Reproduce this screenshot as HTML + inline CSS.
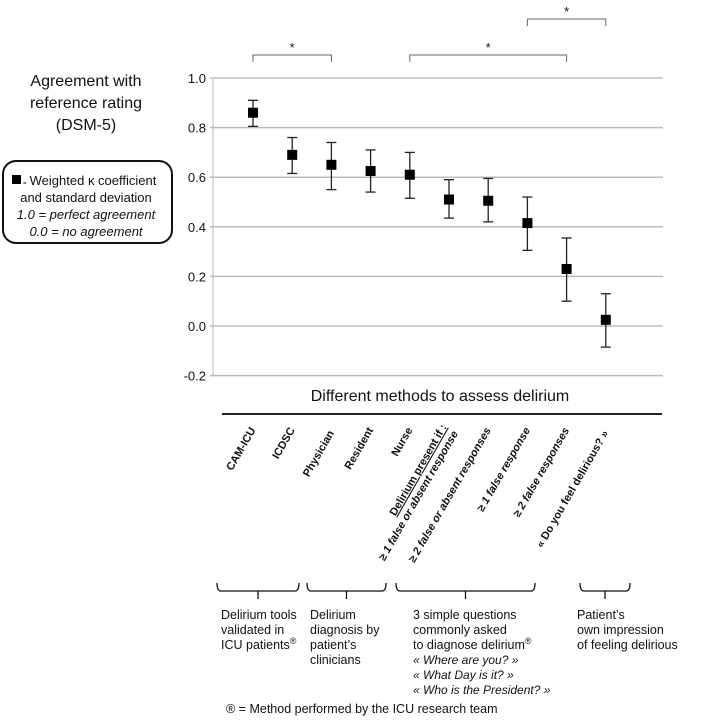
<!DOCTYPE html>
<html><head><meta charset="utf-8"><style>
body{margin:0;background:#fff;}
svg{display:block;font-family:"Liberation Sans",sans-serif;}
</style></head><body>
<svg id="chart" width="710" height="724" viewBox="0 0 710 724">
<g font-size="16" text-anchor="middle" fill="#111">
<text x="86" y="86">Agreement with</text>
<text x="86" y="108">reference rating</text>
<text x="86" y="130">(DSM-5)</text>
</g>
<g>
<rect x="3" y="161" width="169" height="82" rx="13" fill="#fff" stroke="#111" stroke-width="2"/>
<rect x="12" y="175" width="9" height="9" fill="#000"/>
<text x="23" y="185" font-size="6">=</text>
<g font-size="13" text-anchor="middle" fill="#111">
<text x="93" y="185">Weighted κ coefficient</text>
<text x="86" y="202">and standard deviation</text>
<text x="86" y="219" font-style="italic">1.0 = perfect agreement</text>
<text x="86" y="236" font-style="italic">0.0 = no agreement</text>
</g>
</g>
<g id="grid"></g>
<g id="yticks" font-size="13" text-anchor="end" fill="#111"></g>
<g id="marks"></g>
<g id="sig" fill="none" stroke="#666" stroke-width="1"></g>
<text x="440" y="401" font-size="16" text-anchor="middle" fill="#111">Different methods to assess delirium</text>
<line x1="222" y1="414" x2="662" y2="414" stroke="#222" stroke-width="2"/>
<g id="xlabels" font-size="11" font-weight="bold" fill="#111"></g>
<g id="groups" fill="none" stroke="#111" stroke-width="1.3"></g>
<g font-size="12.5" fill="#111">
<text x="221" y="619">Delirium tools</text><text x="221" y="634">validated in</text><text x="221" y="649">ICU patients<tspan font-size="9" dy="-5">®</tspan></text>
<text x="310" y="619">Delirium</text><text x="310" y="634">diagnosis by</text><text x="310" y="649">patient’s</text><text x="310" y="664">clinicians</text>
<text x="413" y="619">3 simple questions</text><text x="413" y="634">commonly asked</text><text x="413" y="649">to diagnose delirium<tspan font-size="9" dy="-5">®</tspan></text>
<g font-style="italic" font-size="12"><text x="413" y="664">« Where are you? »</text><text x="413" y="679">« What Day is it? »</text><text x="413" y="694">« Who is the President? »</text></g>
<text x="577" y="619">Patient’s</text><text x="577" y="634">own impression</text><text x="577" y="649">of feeling delirious</text>
</g>
<text x="226" y="713" font-size="12.5" fill="#111">® = Method performed by the ICU research team</text>
</svg>
<script>
const categories=["CAM-ICU","ICDSC","Physician","Resident","Nurse","≥1 false or absent","≥2 false or absent","≥1 false","≥2 false","Do you feel delirious?"];
const kappa=[0.86,0.69,0.65,0.625,0.61,0.51,0.505,0.415,0.23,0.025];
const upper=[0.91,0.76,0.74,0.71,0.70,0.59,0.595,0.52,0.355,0.13];
const lower=[0.805,0.615,0.55,0.54,0.515,0.435,0.42,0.305,0.10,-0.085];
const yTicks=[1.0,0.8,0.6,0.4,0.2,0.0,-0.2];
const yTickLabels=["1.0","0.8","0.6","0.4","0.2","0.0","-0.2"];
const sigPairs=[[0,2],[4,8],[7,9]];
const NS="http://www.w3.org/2000/svg";
const y=v=>326-(v)*248;
const x=i=>253+i*39.2;
function mk(t,a,p){const e=document.createElementNS(NS,t);for(const k in a)e.setAttribute(k,a[k]);p.appendChild(e);return e;}
const grid=document.getElementById('grid'),yt=document.getElementById('yticks'),marks=document.getElementById('marks'),sig=document.getElementById('sig');
mk('line',{x1:213,y1:y(1),x2:213,y2:y(-0.2),stroke:'#bbb','stroke-width':1},grid);
yTicks.forEach((v,i)=>{
 const l=mk('line',{x1:210,y1:y(v),x2:663,y2:y(v),stroke:'#bbb','stroke-width':1.5},grid);
 
 
 const t=mk('text',{x:206,y:y(v)+5},yt);t.textContent=yTickLabels[i];
 
 
});
kappa.forEach((v,i)=>{
 const g=mk('g',{},marks);
 
 
 mk('line',{x1:x(i),y1:y(upper[i]),x2:x(i),y2:y(lower[i]),stroke:'#222','stroke-width':1.3},g);
 mk('line',{x1:x(i)-5,y1:y(upper[i]),x2:x(i)+5,y2:y(upper[i]),stroke:'#222','stroke-width':1.3},g);
 mk('line',{x1:x(i)-5,y1:y(lower[i]),x2:x(i)+5,y2:y(lower[i]),stroke:'#222','stroke-width':1.3},g);
 mk('rect',{x:x(i)-5,y:y(v)-5,width:10,height:10,fill:'#000'},g);
});
const sigY=[55,55,19];
sigPairs.forEach((p,i)=>{
 const a=x(p[0]),b=x(p[1]),yy=sigY[i];
 const path=mk('path',{d:`M${a},${yy+7}V${yy}H${b}V${yy+7}`},sig);
 
 
 const s=mk('text',{x:(a+b)/2,y:yy-3,'font-size':13,'text-anchor':'middle',fill:'#111',stroke:'none'},sig);s.textContent='*';
});
const xl=document.getElementById('xlabels');
const labelDefs=[["CAM-ICU",0,0,false],["ICDSC",1,0,false],["Physician",2,3,false],["Resident",3,0,false],["Nurse",4,0,false],
["≥ 2 false or absent responses",6,0,true],["≥ 1 false response",7,0,true],["≥ 2 false responses",8,0,true],["« Do you feel delirious? »",9,3,false]];
labelDefs.forEach(d=>{
 const t=mk('text',{transform:`translate(${x(d[1])+3},${430+d[2]}) rotate(-60)`,'text-anchor':'end'},xl);
 if(d[3])t.setAttribute('font-style','italic');
 t.textContent=d[0];
 
 
});
const t5=mk('text',{transform:`translate(${x(5)-2},427) rotate(-60)`,'text-anchor':'end'},xl);


mk('tspan',{'text-decoration':'underline',x:0,y:0},t5).textContent='Delirium present if :';
mk('tspan',{'font-style':'italic',x:0,y:13},t5).textContent='≥ 1 false or absent response';
const groups=document.getElementById('groups');
[[217,299],[307,386],[396,535],[580,630]].forEach(g=>{
 const c=(g[0]+g[1])/2;
 const p=mk('path',{d:`M${g[0]},583 Q${g[0]},591 ${g[0]+4},591 H${g[1]-4} Q${g[1]},591 ${g[1]},583 M${c},591 V599`},groups);
 
 
});
</script>
</body></html>
